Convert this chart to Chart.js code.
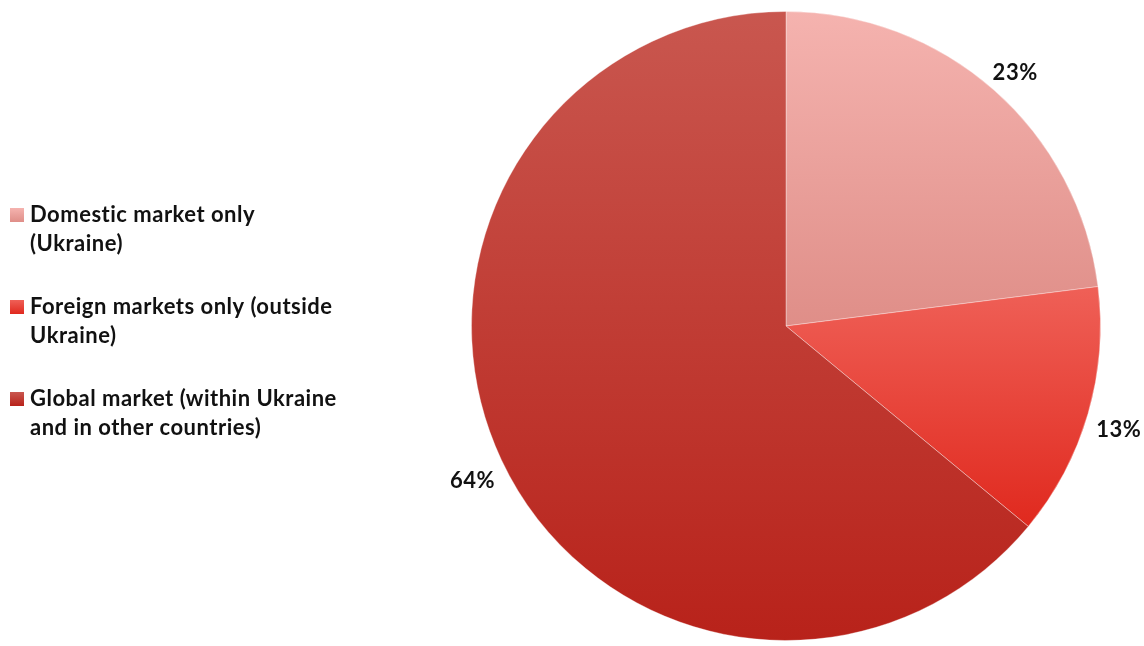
<!DOCTYPE html>
<html><head><meta charset="utf-8">
<script src="https://cdn.jsdelivr.net/npm/chart.js@4/dist/chart.umd.min.js"></script>
<style>html,body{margin:0;padding:0;background:#fff;}#wrap{width:1144px;height:646px;position:relative;}</style>
</head><body><div id="wrap"><canvas id="c"></canvas></div>
<script>
const categories = [
  ['Domestic market only', '(Ukraine)'],
  ['Foreign markets only (outside', 'Ukraine)'],
  ['Global market (within Ukraine', 'and in other countries)']
];
const values = [23, 13, 64];
const valueLabels = ['23%', '13%', '64%'];
const gradTop = ['#F5B3AF', '#EF6057', '#C9574F'];
const gradBottom = ['#DF8E88', '#E0291E', '#B8221A'];

const FONT = 'Lato, "Open Sans", sans-serif';

function sliceBox(chart, i) {
  const a = chart.chartArea;
  const cx = (a.left + a.right) / 2, cy = (a.top + a.bottom) / 2;
  const r = Math.min(a.right - a.left, a.bottom - a.top) / 2;
  const total = values.reduce((s, v) => s + v, 0);
  let cum = 0; for (let k = 0; k < i; k++) cum += values[k];
  const s = -Math.PI / 2 + 2 * Math.PI * cum / total;
  const e = s + 2 * Math.PI * values[i] / total;
  let ys = [cy, cy + r * Math.sin(s), cy + r * Math.sin(e)];
  [-Math.PI / 2, Math.PI / 2, 3 * Math.PI / 2].forEach(t => { if (t >= s && t <= e) ys.push(cy + r * Math.sin(t)); });
  return { y0: Math.min(...ys), y1: Math.max(...ys) };
}

function sliceColor(ctx) {
  const chart = ctx.chart;
  if (!chart.chartArea) return gradTop[ctx.dataIndex];
  const i = ctx.dataIndex;
  const b = sliceBox(chart, i);
  const g = chart.ctx.createLinearGradient(0, b.y0, 0, b.y1);
  g.addColorStop(0, gradTop[i]);
  g.addColorStop(1, gradBottom[i]);
  return g;
}

const labelPlugin = {
  id: 'outLabels',
  afterDatasetsDraw(chart) {
    const ctx = chart.ctx;
    const meta = chart.getDatasetMeta(0);
    ctx.save();
    ctx.font = 'bold 22px ' + FONT;
    ctx.letterSpacing = '0.5px';
    ctx.fillStyle = '#111';
    ctx.textAlign = 'center';
    ctx.textBaseline = 'middle';
    meta.data.forEach((arc, i) => {
      const mid = (arc.startAngle + arc.endAngle) / 2;
      const R = arc.outerRadius + 32;
      ctx.fillText(valueLabels[i], arc.x + Math.cos(mid) * R, arc.y + Math.sin(mid) * R + 7);
    });
    ctx.restore();
  }
};

const legendPlugin = {
  id: 'sideLegend',
  afterDraw(chart) {
    const ctx = chart.ctx;
    ctx.save();
    ctx.font = 'bold 22px ' + FONT;
    ctx.letterSpacing = '0.5px';
    ctx.textBaseline = 'middle';
    const startY = 215, itemGap = 92, lineH = 29;
    categories.forEach((lines, i) => {
      const y = startY + i * itemGap;
      const g = ctx.createLinearGradient(0, y - 7, 0, y + 7);
      g.addColorStop(0, gradTop[i]); g.addColorStop(1, gradBottom[i]);
      ctx.fillStyle = g;
      ctx.fillRect(10, y - 7, 14, 14);
      ctx.fillStyle = '#111';
      lines.forEach((t, j) => ctx.fillText(t, 30, y + j * lineH));
    });
    ctx.restore();
  }
};

new Chart(document.getElementById('c'), {
  type: 'pie',
  data: {
    labels: categories,
    datasets: [{
      data: values,
      backgroundColor: sliceColor,
      borderColor: 'rgba(255,255,255,0.35)',
      borderWidth: 1
    }]
  },
  options: {
    responsive: true,
    maintainAspectRatio: false,
    animation: false,
    layout: { padding: { left: 471, right: 43, top: 11, bottom: 5 } },
    plugins: { legend: { display: false }, tooltip: { enabled: false } }
  },
  plugins: [labelPlugin, legendPlugin]
});
</script></body></html>
